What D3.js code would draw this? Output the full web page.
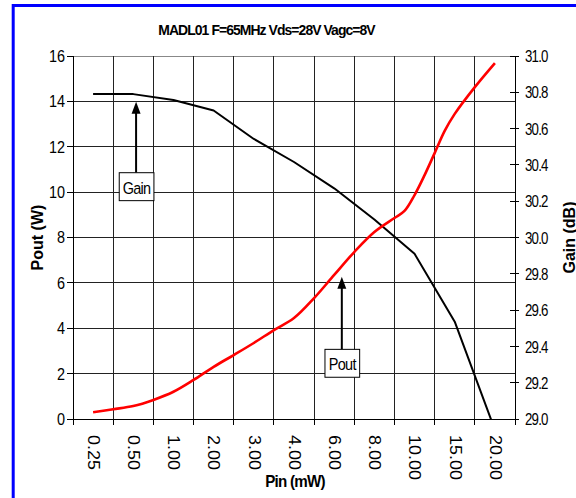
<!DOCTYPE html>
<html>
<head>
<meta charset="utf-8">
<script src="https://cdn.jsdelivr.net/npm/d3@7"></script>
<style>
  html, body { margin: 0; padding: 0; background: #fff; }
  svg { display: block; }
  text { font-family: "Liberation Sans", Arial, sans-serif; fill: #000; }
</style>
</head>
<body>
<div id="chart"></div>
<script>
// ---- data ----
const categories = ["0.25", "0.50", "1.00", "2.00", "3.00", "4.00", "6.00", "8.00", "10.00", "15.00", "20.00"];
const gainDb = [30.79, 30.79, 30.758, 30.70, 30.543, 30.416, 30.271, 30.099, 29.91, 29.536, 28.94];
const poutPos = [0, 0.5, 1, 1.5, 2, 2.5, 3, 3.5, 4, 4.5, 5, 5.5, 6, 6.5, 7, 7.5, 7.75, 8, 8.25, 8.5, 8.75, 9, 9.5, 10];
const poutW = [0.30, 0.43, 0.57, 0.84, 1.20, 1.72, 2.30, 2.82, 3.35, 3.92, 4.45, 5.33, 6.35, 7.36, 8.24, 8.86, 9.17, 9.87, 10.75, 11.72, 12.7, 13.45, 14.63, 15.69];
const poutTicks = [0, 2, 4, 6, 8, 10, 12, 14, 16];
const gainTicks = [29.0, 29.2, 29.4, 29.6, 29.8, 30.0, 30.2, 30.4, 30.6, 30.8, 31.0];
const annotations = [
  { label: "Gain", idx: 1.07, axis: "right", tip: 30.748, boxTop: 30.357, boxBottom: 30.203 },
  { label: "Pout", idx: 6.19, axis: "left", tip: 6.27, boxTop: 3.07, boxBottom: 1.84 }
];
const titleText = "MADL01 F=65MHz Vds=28V Vagc=8V";

// ---- layout ----
const W = 576, H = 498;
const plot = { left: 73, right: 515, top: 56, bottom: 419 };

const svg = d3.select("#chart").append("svg").attr("width", W).attr("height", H);
svg.append("rect").attr("width", W).attr("height", H).attr("fill", "#fff");

// blue frame (extends beyond the visible area on right/bottom)
svg.append("rect").attr("x", 13.2).attr("y", 5.5).attr("width", 700).attr("height", 700)
  .attr("fill", "none").attr("stroke", "#0000ff").attr("stroke-width", 3);

const xBand = d3.scaleBand().domain(categories).range([plot.left, plot.right]).padding(0);
const x = d3.scaleLinear().domain([-0.5, categories.length - 0.5]).range([plot.left, plot.right]);
const yL = d3.scaleLinear().domain([0, 16]).range([plot.bottom, plot.top]);
const yR = d3.scaleLinear().domain([29, 31]).range([plot.bottom, plot.top]);

function txt(g, px, py, str, o) {
  const t = g.append("text")
    .attr("transform", `translate(${px},${py}) scale(${o.sx || 1},1) rotate(${o.rot || 0})`)
    .attr("font-size", o.size)
    .attr("font-weight", o.weight || "normal")
    .attr("text-anchor", o.anchor || "middle")
    .attr("dominant-baseline", o.baseline || "auto")
    .attr("letter-spacing", o.ls || 0)
    .text(str);
  return t;
}

// plot background
svg.append("rect").attr("x", plot.left).attr("y", plot.top)
  .attr("width", plot.right - plot.left).attr("height", plot.bottom - plot.top).attr("fill", "#fff");

const grid = svg.append("g").attr("stroke", "#222").attr("stroke-width", 1).attr("shape-rendering", "crispEdges");
// horizontal gridlines
poutTicks.filter(v => v > 0).forEach(v => {
  grid.append("line").attr("x1", plot.left).attr("x2", plot.right).attr("y1", yL(v)).attr("y2", yL(v))
    .attr("stroke", v === 16 ? "#888" : "#222");
});
// vertical gridlines at category boundaries
const boundaries = categories.map(c => xBand(c)).concat([plot.right]);
boundaries.slice(1, -1).forEach(bx => {
  grid.append("line").attr("x1", bx).attr("x2", bx).attr("y1", plot.top).attr("y2", plot.bottom);
});

// axes lines
const ax = svg.append("g").attr("stroke", "#000").attr("stroke-width", 1).attr("shape-rendering", "crispEdges");
ax.append("line").attr("x1", plot.left).attr("x2", plot.left).attr("y1", plot.top).attr("y2", plot.bottom);
ax.append("line").attr("x1", plot.right).attr("x2", plot.right).attr("y1", plot.top).attr("y2", plot.bottom);
ax.append("line").attr("x1", plot.left).attr("x2", plot.right).attr("y1", plot.bottom).attr("y2", plot.bottom);
// left ticks
poutTicks.forEach(v => ax.append("line").attr("x1", plot.left - 6).attr("x2", plot.left).attr("y1", yL(v)).attr("y2", yL(v)));
// right ticks (cross)
gainTicks.forEach(v => ax.append("line").attr("x1", plot.right - 5).attr("x2", plot.right + 4).attr("y1", yR(v)).attr("y2", yR(v)));
// bottom ticks
boundaries.forEach(bx => ax.append("line").attr("x1", bx).attr("x2", bx).attr("y1", plot.bottom).attr("y2", plot.bottom + 6));

// tick labels
const lab = svg.append("g");
poutTicks.forEach(v => txt(lab, plot.left - 8, yL(v), String(v), { size: 17, sx: 0.85, anchor: "end", baseline: "central" }));
gainTicks.forEach(v => txt(lab, plot.right + 10, yR(v), v.toFixed(1), { size: 17, sx: 0.78, ls: -1, anchor: "start", baseline: "central" }));
categories.forEach(c => txt(lab, xBand(c) + xBand.bandwidth() / 2, plot.bottom + 16, c, { size: 18, sx: 0.9, rot: 90, anchor: "start", baseline: "central" }));

// titles
txt(svg, 266.5, 35, titleText, { size: 15, weight: "bold", sx: 0.93, ls: -1 });
txt(svg, 295, 487, "Pin (mW)", { size: 16, weight: "bold", sx: 0.95, ls: -0.8 });
txt(svg, 37, (plot.top + plot.bottom) / 2, "Pout (W)", { size: 16, weight: "bold", rot: -90, baseline: "central" });
txt(svg, 569, (plot.top + plot.bottom) / 2, "Gain (dB)", { size: 16, weight: "bold", rot: -90, baseline: "central" });

// clip
svg.append("clipPath").attr("id", "clip").append("rect")
  .attr("x", plot.left).attr("y", plot.top).attr("width", plot.right - plot.left).attr("height", plot.bottom - plot.top);

// series
const gainLine = d3.line().x((d, i) => x(i)).y(d => yR(d));
svg.append("path").attr("clip-path", "url(#clip)").datum(gainDb).attr("d", gainLine)
  .attr("fill", "none").attr("stroke", "#000").attr("stroke-width", 2).attr("stroke-linejoin", "round");

const poutData = poutPos.map((p, i) => [p, poutW[i]]);
const poutLine = d3.line().x(d => x(d[0])).y(d => yL(d[1])).curve(d3.curveCatmullRom.alpha(0.5));
svg.append("path").attr("clip-path", "url(#clip)").datum(poutData).attr("d", poutLine)
  .attr("fill", "none").attr("stroke", "#ff0000").attr("stroke-width", 2.6).attr("stroke-linejoin", "round");

// annotations
annotations.forEach(a => {
  const sc = a.axis === "right" ? yR : yL;
  const cx = x(a.idx);
  const tipY = sc(a.tip), topY = sc(a.boxTop), botY = sc(a.boxBottom);
  const g = svg.append("g");
  const headH = 12, headW = 9;
  g.append("line").attr("x1", cx).attr("x2", cx).attr("y1", topY).attr("y2", tipY + headH - 1)
    .attr("stroke", "#000").attr("stroke-width", 2);
  g.append("path").attr("d", `M${cx},${tipY} L${cx - headW / 2},${tipY + headH} L${cx + headW / 2},${tipY + headH} Z`).attr("fill", "#000");
  const bw = 34.7;
  g.append("rect").attr("x", cx - bw / 2 + 0.5).attr("y", topY).attr("width", bw).attr("height", botY - topY)
    .attr("fill", "#fff").attr("stroke", "#000").attr("stroke-width", 1);
  txt(g, cx + 0.5, (topY + botY) / 2 + 1, a.label, { size: 17, sx: 0.85, ls: -0.8, baseline: "central" });
});
</script>
</body>
</html>
